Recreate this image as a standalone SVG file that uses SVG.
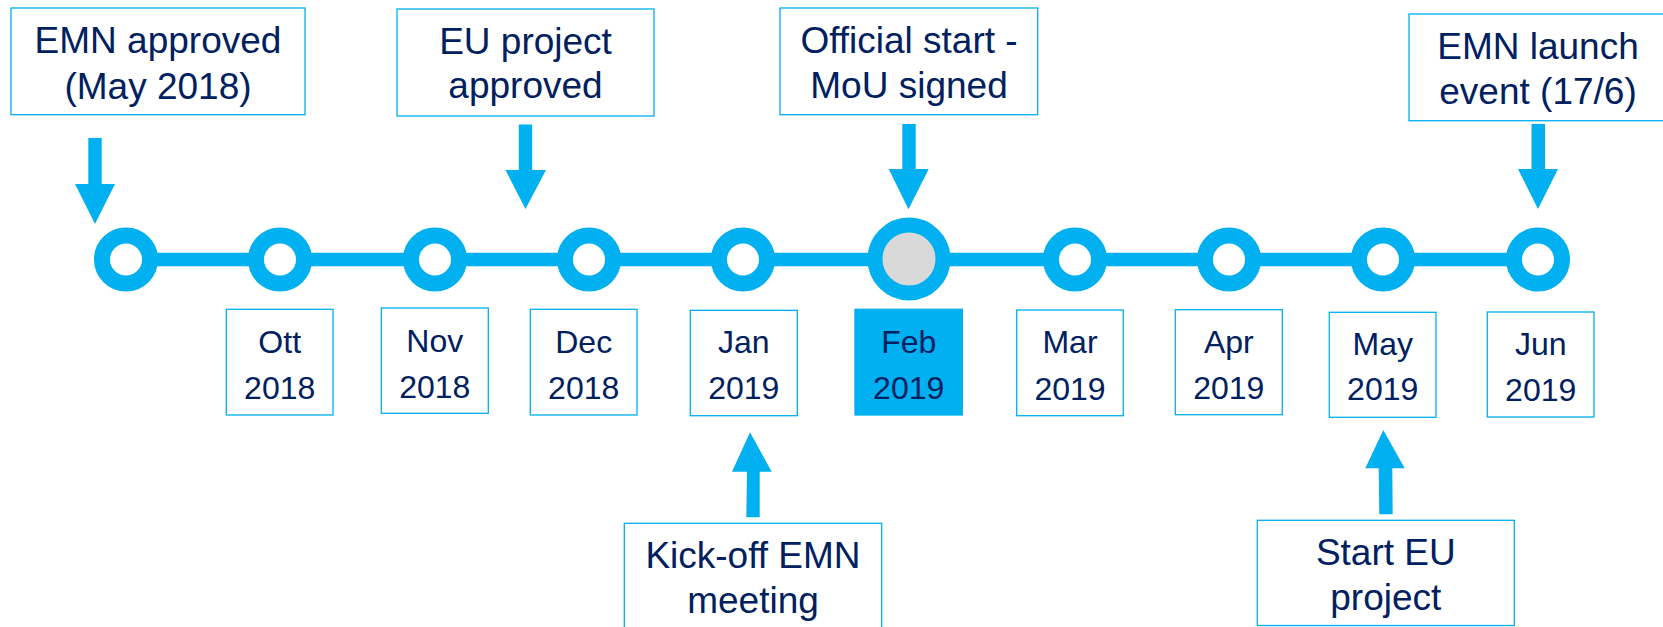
<svg xmlns="http://www.w3.org/2000/svg" width="1663" height="627" viewBox="0 0 1663 627">
<style>
.box{fill:#ffffff;stroke:#00B0F0;stroke-width:1.3}
.sel{fill:#00B0F0;stroke:#00B0F0;stroke-width:1.3}
.ev{font-family:"Liberation Sans",Arial,sans-serif;font-size:37px;fill:#002060;text-anchor:middle}
.mo{font-family:"Liberation Sans",Arial,sans-serif;font-size:32px;fill:#002060;text-anchor:middle}
.ring{fill:#ffffff;stroke:#00B0F0;stroke-width:16}
.arr{fill:#00B0F0}
</style>
<rect width="1663" height="627" fill="#ffffff"/>
<g id="connectors">
<line x1="126" y1="259.5" x2="1538" y2="259.5" stroke="#00B0F0" stroke-width="13.5"/>
<polygon class="arr" points="88.3,138 101.7,138 101.7,184 115,184 95,224 75,184 88.3,184"/>
<polygon class="arr" points="518.8,124.5 532.2,124.5 532.2,170 546,170 525.5,209 505.5,170 518.8,170"/>
<polygon class="arr" points="902.3,124 915.7,124 915.7,169 928.7,169 908.5,209.3 888.7,169 902.3,169"/>
<polygon class="arr" points="1531.5,124 1545,124 1545,169 1558,169 1538,209 1518,169 1531.5,169"/>
<polygon class="arr" points="750,432.3 771.7,471.7 759.7,471.7 759.7,517.3 746.3,517.3 747,471.7 732,471.7"/>
<polygon class="arr" points="1383.3,430 1404.7,468.3 1392.3,468.3 1392.7,514.3 1379.3,514.3 1378.7,468.3 1365.3,468.3"/>
</g>
<g id="timeline-points">
<circle class="ring" cx="126" cy="259.5" r="24"/>
<circle class="ring" cx="280" cy="259.5" r="24"/>
<circle class="ring" cx="435" cy="259.5" r="24"/>
<circle class="ring" cx="589" cy="259.5" r="24"/>
<circle class="ring" cx="743" cy="259.5" r="24"/>
<circle cx="909" cy="259" r="34" fill="#D9D9D9" stroke="#00B0F0" stroke-width="15"/>
<circle class="ring" cx="1075" cy="259.5" r="24"/>
<circle class="ring" cx="1229" cy="259.5" r="24"/>
<circle class="ring" cx="1383" cy="259.5" r="24"/>
<circle class="ring" cx="1538" cy="259.5" r="24"/>
</g>
<g id="ev-emn-approved">
<rect class="box" x="11" y="8" width="294" height="106.7"/>
<text class="ev" x="158" y="53.3">EMN approved</text>
<text class="ev" x="158" y="98.5">(May 2018)</text>
</g>
<g id="ev-eu-project-approved">
<rect class="box" x="397" y="9" width="257" height="107"/>
<text class="ev" x="525.5" y="53.5">EU project</text>
<text class="ev" x="525.5" y="98">approved</text>
</g>
<g id="ev-official-start">
<rect class="box" x="780" y="8" width="257.7" height="106.7"/>
<text class="ev" x="909" y="52.7">Official start -</text>
<text class="ev" x="909" y="97.7">MoU signed</text>
</g>
<g id="ev-emn-launch">
<rect class="box" x="1409" y="14" width="258" height="106.7"/>
<text class="ev" x="1538" y="59.3">EMN launch</text>
<text class="ev" x="1538" y="104">event (17/6)</text>
</g>
<g id="ev-kickoff">
<rect class="box" x="624.3" y="523.3" width="257.4" height="110"/>
<text class="ev" x="753" y="568.3">Kick-off EMN</text>
<text class="ev" x="753" y="613">meeting</text>
</g>
<g id="ev-start-eu">
<rect class="box" x="1257.3" y="520.3" width="257" height="105.2"/>
<text class="ev" x="1385.8" y="565">Start EU</text>
<text class="ev" x="1385.8" y="610">project</text>
</g>
<g id="m-ott">
<rect class="box" x="226.3" y="309.3" width="106.7" height="105.7"/>
<text class="mo" x="279.7" y="352.7">Ott</text>
<text class="mo" x="279.7" y="399">2018</text>
</g>
<g id="m-nov">
<rect class="box" x="381.3" y="308" width="107" height="105.3"/>
<text class="mo" x="434.8" y="351.7">Nov</text>
<text class="mo" x="434.8" y="398.3">2018</text>
</g>
<g id="m-dec">
<rect class="box" x="530.3" y="309.3" width="106.7" height="105.7"/>
<text class="mo" x="583.7" y="352.7">Dec</text>
<text class="mo" x="583.7" y="399">2018</text>
</g>
<g id="m-jan">
<rect class="box" x="690.3" y="310.3" width="107" height="105.4"/>
<text class="mo" x="743.8" y="353.3">Jan</text>
<text class="mo" x="743.8" y="399.3">2019</text>
</g>
<g id="m-feb">
<rect class="sel" x="855" y="309.3" width="107.3" height="105.7"/>
<text class="mo" x="908.7" y="352.7">Feb</text>
<text class="mo" x="908.7" y="399">2019</text>
</g>
<g id="m-mar">
<rect class="box" x="1016.7" y="310" width="106.6" height="105.7"/>
<text class="mo" x="1070" y="353">Mar</text>
<text class="mo" x="1070" y="399.5">2019</text>
</g>
<g id="m-apr">
<rect class="box" x="1175.3" y="309.7" width="107" height="105"/>
<text class="mo" x="1228.8" y="352.7">Apr</text>
<text class="mo" x="1228.8" y="399">2019</text>
</g>
<g id="m-may">
<rect class="box" x="1329.3" y="312.3" width="106.7" height="105"/>
<text class="mo" x="1382.7" y="355">May</text>
<text class="mo" x="1382.7" y="400">2019</text>
</g>
<g id="m-jun">
<rect class="box" x="1487.3" y="312" width="106.7" height="105"/>
<text class="mo" x="1540.7" y="355">Jun</text>
<text class="mo" x="1540.7" y="401">2019</text>
</g>
</svg>
